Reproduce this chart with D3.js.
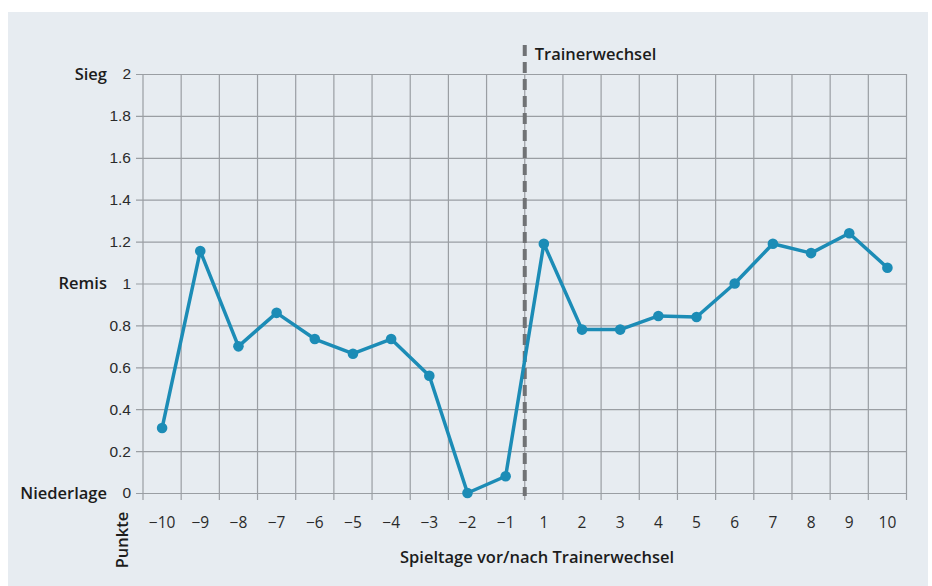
<!DOCTYPE html>
<html>
<head>
<meta charset="utf-8">
<script src="https://cdn.jsdelivr.net/npm/d3@7"></script>
<style>
  html, body { margin: 0; padding: 0; background: #ffffff; }
  svg { display: block; font-family: "Open Sans", "Noto Sans", sans-serif; }
</style>
</head>
<body>
<svg id="chart" width="932" height="586"></svg>
<script>
// ---- data ----
const categories = ["−10","−9","−8","−7","−6","−5","−4","−3","−2","−1","1","2","3","4","5","6","7","8","9","10"];
const values = [0.31, 1.155, 0.70, 0.86, 0.735, 0.665, 0.735, 0.56, 0.0, 0.08,
                1.19, 0.78, 0.78, 0.845, 0.84, 1.0, 1.19, 1.145, 1.24, 1.075];
const yTicks = [0, 0.2, 0.4, 0.6, 0.8, 1, 1.2, 1.4, 1.6, 1.8, 2];
const yTickLabels = ["0", "0.2", "0.4", "0.6", "0.8", "1", "1.2", "1.4", "1.6", "1.8", "2"];
const outcomeLabels = [{v: 2, t: "Sieg"}, {v: 1, t: "Remis"}, {v: 0, t: "Niederlage"}];
const changeAfter = "−1";
const changeLabel = "Trainerwechsel";
const xTitle = "Spieltage vor/nach Trainerwechsel";
const yTitle = "Punkte";

// ---- layout ----
const svg = d3.select("#chart");
const W = 932, H = 586;
const m = {left: 143, right: 25.5, top: 74, bottom: 93};
const x = d3.scaleBand().domain(categories).range([m.left, W - m.right]).padding(0);
const y = d3.scaleLinear().domain([0, 2]).range([H - m.bottom, m.top]);

// background paper
svg.append("rect").attr("x", 8).attr("y", 12).attr("width", 920).attr("height", 574)
  .attr("fill", "#e7ecf1");

const gridColor = "#9a9ea3";

// horizontal grid + left ticks
const yAxis = d3.axisLeft(y).tickValues(yTicks)
  .tickFormat((d, i) => yTickLabels[i])
  .tickSize(-(W - m.right - m.left)).tickPadding(12);
const gy = svg.append("g").attr("transform", `translate(${m.left},0)`).call(yAxis);
gy.select(".domain").remove();
gy.selectAll(".tick line").attr("stroke", gridColor).attr("stroke-width", 1.2).attr("x1", -7);
gy.selectAll(".tick text").attr("fill", "#2a2a2a").attr("font-size", 15.5).attr("x", -12)
  .attr("dy", "0.32em");

// vertical grid lines at band boundaries
const bounds = categories.map(c => x(c)).concat([x(categories[categories.length - 1]) + x.bandwidth()]);
svg.append("g").selectAll("line").data(bounds).join("line")
  .attr("x1", d => d).attr("x2", d => d)
  .attr("y1", y(2)).attr("y2", y(0) + 7)
  .attr("stroke", gridColor).attr("stroke-width", 1.2);

// x tick labels
svg.append("g").selectAll("text").data(categories).join("text")
  .attr("x", d => x(d) + x.bandwidth() / 2)
  .attr("y", y(0) + 35)
  .attr("text-anchor", "middle")
  .attr("font-size", 15.5).attr("fill", "#2a2a2a")
  .text(d => d);

// outcome labels
svg.append("g").selectAll("text").data(outcomeLabels).join("text")
  .attr("x", 107).attr("y", d => y(d.v)).attr("dy", "0.35em")
  .attr("text-anchor", "end").attr("font-size", 16.5).attr("font-weight", 600)
  .attr("fill", "#1c1c1c").text(d => d.t);

// y title (rotated)
svg.append("text")
  .attr("transform", `translate(128,${y(0) + 47}) rotate(-90)`)
  .attr("text-anchor", "middle").attr("font-size", 16.5).attr("font-weight", 600)
  .attr("fill", "#1c1c1c").text(yTitle);

// x title
svg.append("text")
  .attr("x", 537).attr("y", y(0) + 70)
  .attr("text-anchor", "middle").attr("font-size", 16.5).attr("font-weight", 600)
  .attr("fill", "#1c1c1c").text(xTitle);

// trainer change dashed line
const cx = x(changeAfter) + x.bandwidth();
svg.append("line")
  .attr("x1", cx).attr("x2", cx).attr("y1", 45).attr("y2", y(0) + 3)
  .attr("stroke", "#707275").attr("stroke-width", 4).attr("stroke-dasharray", "11,6");
svg.append("text")
  .attr("x", cx + 10).attr("y", 60)
  .attr("font-size", 16.5).attr("font-weight", 600).attr("fill", "#1c1c1c")
  .text(changeLabel);

// line + points
const pts = categories.map((c, i) => ({c, v: values[i]}));
const line = d3.line().x(d => x(d.c) + x.bandwidth() / 2).y(d => y(d.v));
svg.append("path").datum(pts).attr("d", line)
  .attr("fill", "none").attr("stroke", "#1c8cb6").attr("stroke-width", 3.5)
  .attr("stroke-linejoin", "round");
svg.append("g").selectAll("circle").data(pts).join("circle")
  .attr("cx", d => x(d.c) + x.bandwidth() / 2).attr("cy", d => y(d.v))
  .attr("r", 5.3).attr("fill", "#1c8cb6");
</script>
</body>
</html>
